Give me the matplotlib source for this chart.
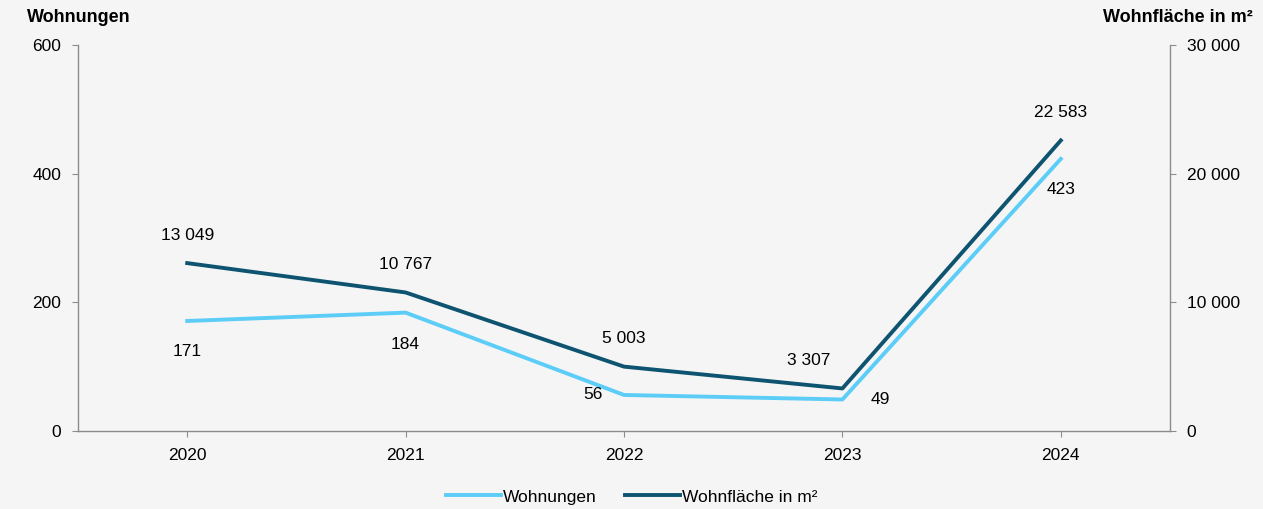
import matplotlib.pyplot as plt
from matplotlib.ticker import FuncFormatter

plt.rcParams['font.family'] = ['Liberation Sans', 'DejaVu Sans']

years = ["2020", "2021", "2022", "2023", "2024"]
wohnungen = [171, 184, 56, 49, 423]
flaeche = [13049, 10767, 5003, 3307, 22583]

light = "#5ccdf7"
dark = "#0e5470"
grey = "#8c8c8c"
bg = "#f5f5f5"


def fmt(v, pos=None):
    return "{:,.0f}".format(v).replace(",", " ")


fig = plt.figure(figsize=(12.63, 5.09), dpi=100, facecolor=bg)
ax = fig.add_axes([78 / 1263, 1 - 431 / 509, (1170 - 78) / 1263, (431 - 45) / 509])
ax.set_facecolor(bg)
ax2 = ax.twinx()

x = list(range(len(years)))
l1, = ax.plot(x, wohnungen, color=light, lw=2.8, label="Wohnungen")
l2, = ax2.plot(x, flaeche, color=dark, lw=2.8, label="Wohnfläche in m²")

ax.set_xlim(-0.5, 4.5)
ax.set_ylim(0, 600)
ax.set_yticks([0, 200, 400, 600])
ax2.set_ylim(0, 30000)
ax2.set_yticks([0, 10000, 20000, 30000])
ax2.yaxis.set_major_formatter(FuncFormatter(fmt))
ax.set_xticks(x)
ax.set_xticklabels(years)

for a in (ax, ax2):
    for s in ("top",):
        a.spines[s].set_visible(False)
    for s in ("left", "right", "bottom"):
        a.spines[s].set_color(grey)
        a.spines[s].set_linewidth(1)
    a.tick_params(colors=grey, labelcolor="black", labelsize=12.5, length=4, pad=8)
ax.spines["right"].set_visible(False)
ax2.spines["left"].set_visible(False)
ax2.spines["bottom"].set_visible(False)

# labels
w_off = [(0, -22), (0, -23), (-22, 0), (27, 0), (0, -22)]
for i, v in enumerate(wohnungen):
    ax.annotate(str(v), (x[i], v), xytext=w_off[i], textcoords="offset points",
                ha="center", va="center", fontsize=12.5)
f_off = [(0, 20), (0, 20), (0, 20), (-24, 20), (0, 20)]
for i, v in enumerate(flaeche):
    ax2.annotate(fmt(v), (x[i], v), xytext=f_off[i], textcoords="offset points",
                 ha="center", va="center", fontsize=12.5)

fig.text(27 / 1263, 1 - 17 / 509, "Wohnungen", fontsize=13, fontweight="bold",
         ha="left", va="center")
fig.text(1253 / 1263, 1 - 17 / 509, "Wohnfläche in m²", fontsize=13, fontweight="bold",
         ha="right", va="center")

fig.legend(handles=[l1, l2], loc="center", bbox_to_anchor=(0.5, 1 - 497 / 509),
           ncol=2, frameon=False, fontsize=12.5, handlelength=3.2,
           handletextpad=0.1, columnspacing=1.6)

fig.savefig("out.png", dpi=100, facecolor=bg)
